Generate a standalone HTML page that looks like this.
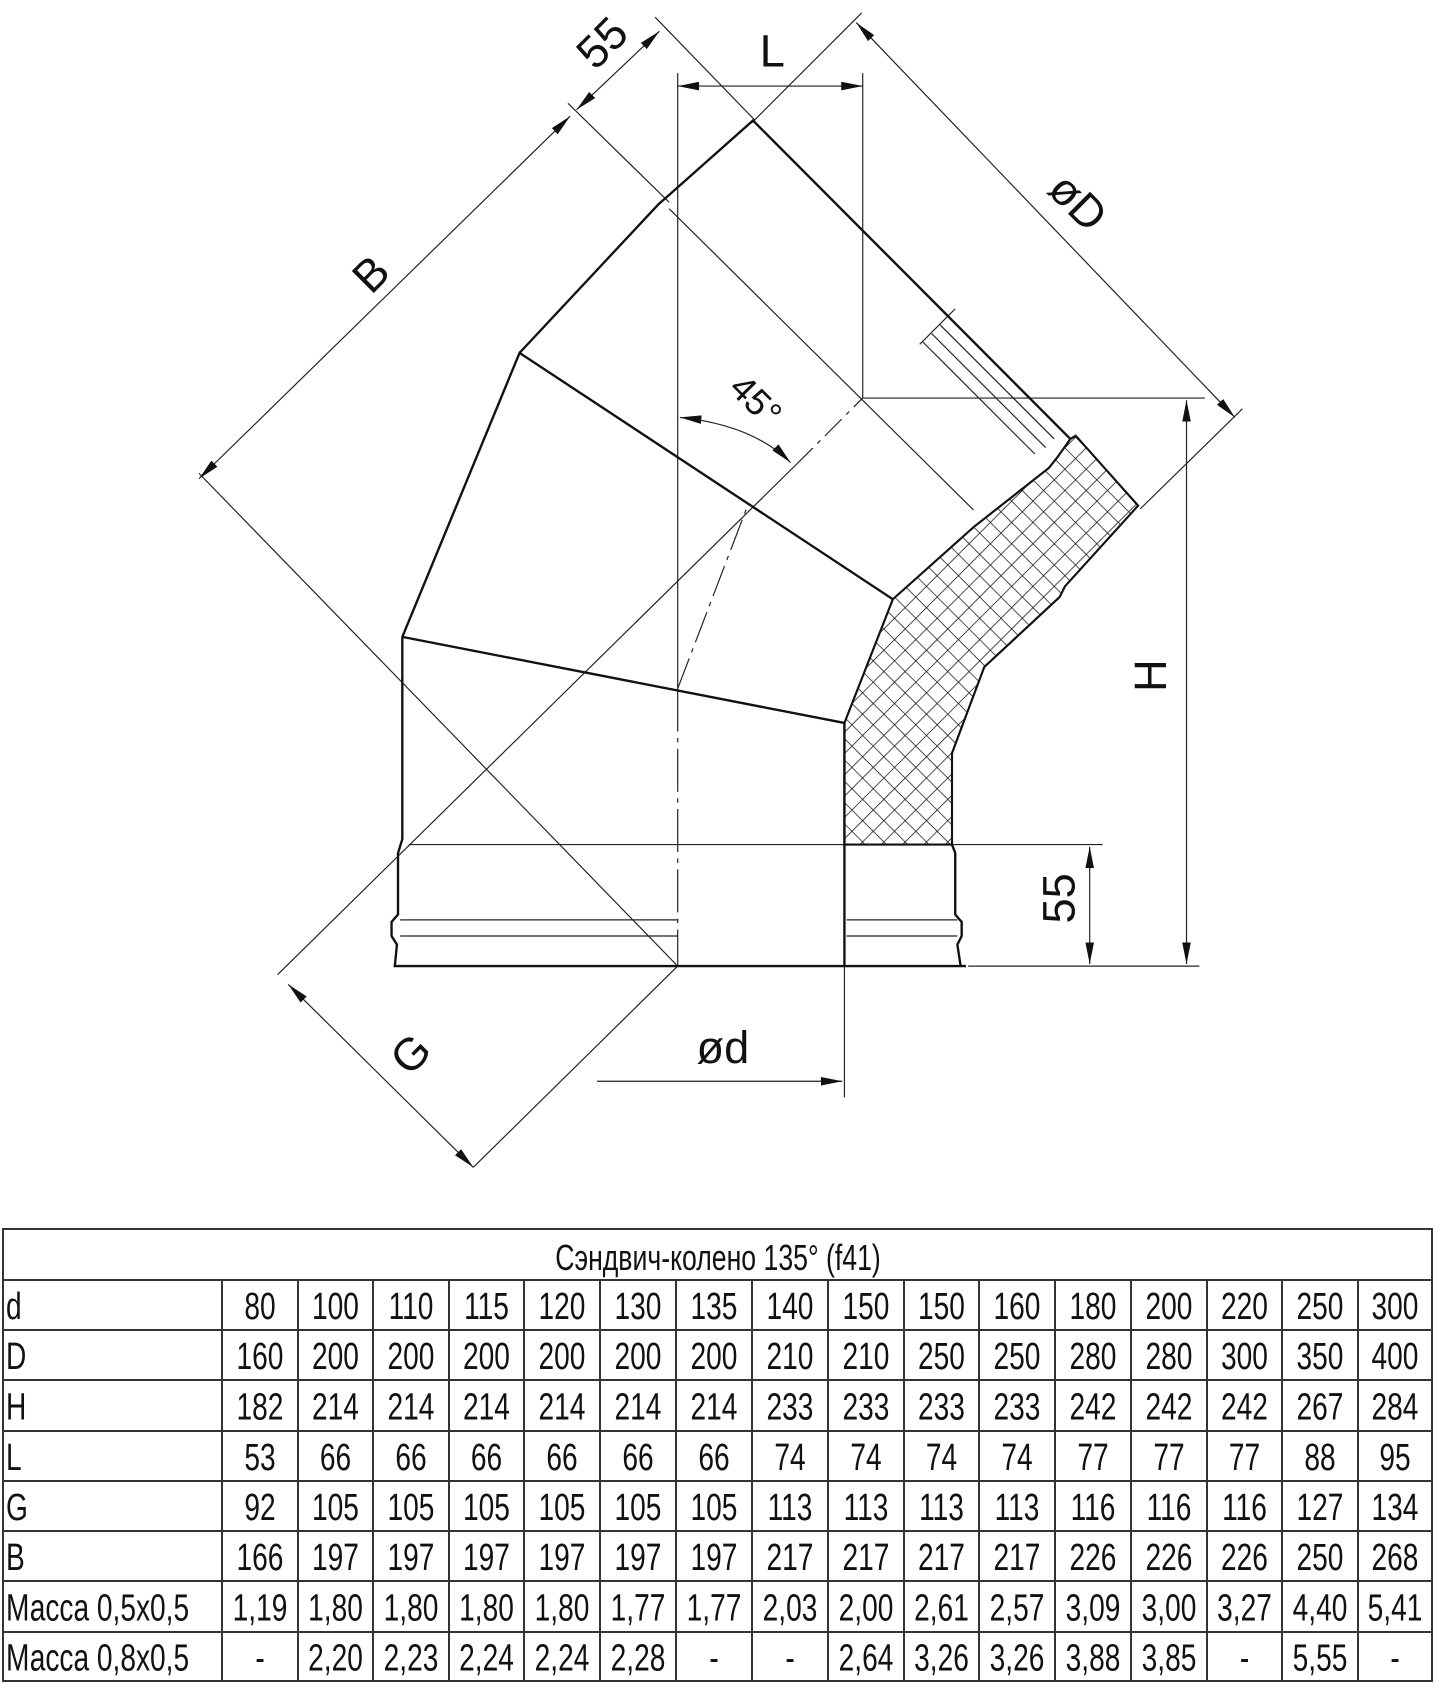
<!DOCTYPE html>
<html><head><meta charset="utf-8"><style>
html,body{margin:0;padding:0;background:#fff;}
svg{position:absolute;left:0;top:0;}
</style></head><body>
<svg width="1435" height="1688" viewBox="0 0 1334 1569" preserveAspectRatio="none" xmlns="http://www.w3.org/2000/svg">
<defs>
<pattern id="h" width="14" height="14" patternUnits="userSpaceOnUse" patternTransform="rotate(45)">
<path d="M0 0H14M0 0V14" stroke="#111" stroke-width="1.4" fill="none"/>
</pattern>
<marker id="a" viewBox="0 0 20 8" refX="20" refY="4" markerWidth="20" markerHeight="8" orient="auto-start-reverse" markerUnits="userSpaceOnUse"><path d="M0 0L20 4L0 8Z" fill="#111"/></marker>
</defs>
<g fill="none" stroke="#222" stroke-width="1.1">
<line x1="630" y1="68" x2="630" y2="640"/>
<line x1="630" y1="640" x2="630" y2="898" stroke-dasharray="40 6 4 6"/>
<line x1="802" y1="68" x2="802" y2="370"/>
<line x1="802" y1="370" x2="1120" y2="370"/>
<line x1="900" y1="898" x2="1115" y2="898"/>
<line x1="380" y1="785" x2="1025" y2="785"/>
<line x1="185" y1="440" x2="630" y2="898"/>
<line x1="258" y1="906" x2="740" y2="432"/>
<line x1="740" y1="432" x2="802" y2="370" stroke-dasharray="22 6 4 6"/>
<line x1="630" y1="640" x2="695" y2="470" stroke-dasharray="30 6 4 6"/>
<line x1="440" y1="1085" x2="630" y2="898"/>
<line x1="622" y1="194" x2="905" y2="474"/>
<line x1="528" y1="96" x2="622" y2="188"/>
<line x1="609" y1="16" x2="702" y2="112"/>
<line x1="801" y1="12" x2="699" y2="114"/>
<line x1="1060" y1="473" x2="1155" y2="380"/>
<line x1="785" y1="898" x2="785" y2="1020"/>
<line x1="855" y1="320" x2="888" y2="287"/>
<line x1="858" y1="318" x2="962" y2="422"/>
<line x1="866" y1="310" x2="972" y2="416"/>
<line x1="874" y1="302" x2="980" y2="408"/>
<line x1="372" y1="855" x2="630" y2="855"/>
<line x1="372" y1="870" x2="630" y2="870"/>
<line x1="787" y1="855" x2="890" y2="855"/>
<line x1="787" y1="870" x2="890" y2="870"/>
<line x1="630" y1="80" x2="802" y2="80" marker-start="url(#a)" marker-end="url(#a)"/>
<line x1="185" y1="445" x2="530" y2="108" marker-start="url(#a)" marker-end="url(#a)"/>
<line x1="536" y1="102" x2="613" y2="29" marker-start="url(#a)" marker-end="url(#a)"/>
<line x1="796" y1="21" x2="1148" y2="388" marker-start="url(#a)" marker-end="url(#a)"/>
<line x1="1103" y1="372" x2="1103" y2="896" marker-start="url(#a)" marker-end="url(#a)"/>
<line x1="1013" y1="787" x2="1013" y2="896" marker-start="url(#a)" marker-end="url(#a)"/>
<line x1="555" y1="1005" x2="783" y2="1005" marker-end="url(#a)"/>
<line x1="268" y1="915" x2="440" y2="1085" marker-start="url(#a)" marker-end="url(#a)"/>
<path d="M632 388 Q700 395 735 430" marker-start="url(#a)" marker-end="url(#a)"/>
</g>
<path d="M785 785 L785 672 L830 557 L905 490 L975 435 L983 425 L995 408 L1000 405 L1058 470 L990 545 L985 555 L915 620 L885 700 L885 785 Z" fill="url(#h)" stroke="#111" stroke-width="2"/>
<g fill="none" stroke="#111" stroke-width="2.2">
<path d="M374 592 L374 780 L370 793 L370 850 L364 857 L364 870 L369 878 L367 898 L898 898"/>
<path d="M885 785 L888 793 L888 850 L894 857 L894 870 L890 878 L893 898"/>
<path d="M785 672 L785 898"/>
<path d="M374 592 L785 672"/>
<path d="M374 592 L483 328 L830 557"/>
<path d="M483 328 L612 190 L620 183 L700 112 L995 408"/>
</g>
<g font-family="Liberation Sans, sans-serif" font-size="42" fill="#111" text-anchor="middle">
<text x="718" y="62">L</text>
<text transform="translate(560,40) rotate(-45)" y="14">55</text>
<text transform="translate(345,255) rotate(-45)" y="14">B</text>
<text transform="translate(1002,188) rotate(45)" y="14">øD</text>
<text transform="translate(1070,628) rotate(-90)" y="14">H</text>
<text transform="translate(985,835) rotate(-90)" y="14">55</text>
<text x="672" y="988">ød</text>
<text transform="translate(382,980) rotate(-45)" y="14">G</text>
<text transform="translate(703,372) rotate(45)" y="12" font-size="34">45°</text>
</g>
</svg>
<svg width="1435" height="1688" viewBox="0 0 1435 1688" xmlns="http://www.w3.org/2000/svg">
<g stroke="#333" stroke-width="2" fill="none">
<rect x="3" y="1229" width="1429" height="452"/>
<path d="M3 1280H1432M3 1330H1432M3 1380H1432M3 1431H1432M3 1481H1432M3 1531H1432M3 1581H1432M3 1632H1432"/>
<path d="M222 1280V1681M298 1280V1681M373 1280V1681M449 1280V1681M524 1280V1681M600 1280V1681M676 1280V1681M752 1280V1681M828 1280V1681M904 1280V1681M979 1280V1681M1055 1280V1681M1131 1280V1681M1207 1280V1681M1282 1280V1681M1358 1280V1681"/>
</g>
<g font-family="Liberation Sans, sans-serif" font-size="38" fill="#111">
<text transform="translate(718,1270) scale(0.74,1)" text-anchor="middle" font-size="36">Сэндвич-колено 135° (f41)</text>
<g id="rows"></g>
</g>
</svg>
<script>
var rows=[["d","80","100","110","115","120","130","135","140","150","150","160","180","200","220","250","300"],
["D","160","200","200","200","200","200","200","210","210","250","250","280","280","300","350","400"],
["H","182","214","214","214","214","214","214","233","233","233","233","242","242","242","267","284"],
["L","53","66","66","66","66","66","66","74","74","74","74","77","77","77","88","95"],
["G","92","105","105","105","105","105","105","113","113","113","113","116","116","116","127","134"],
["B","166","197","197","197","197","197","197","217","217","217","217","226","226","226","250","268"],
["Масса 0,5х0,5","1,19","1,80","1,80","1,80","1,80","1,77","1,77","2,03","2,00","2,61","2,57","3,09","3,00","3,27","4,40","5,41"],
["Масса 0,8х0,5","-","2,20","2,23","2,24","2,24","2,28","-","-","2,64","3,26","3,26","3,88","3,85","-","5,55","-"]];
var xs=[3,222,298,373,449,524,600,676,752,828,904,979,1055,1131,1207,1282,1358,1432];
var ys=[1280,1330,1380,1431,1481,1531,1581,1632,1681];
var g=document.getElementById("rows"),ns="http://www.w3.org/2000/svg";
rows.forEach(function(r,i){r.forEach(function(c,j){var t=document.createElementNS(ns,"text");
var y=(ys[i]+ys[i+1])/2+14;
if(j==0){t.setAttribute("transform","translate(6,"+y+") scale(0.74,1)");}
else{t.setAttribute("transform","translate("+((xs[j]+xs[j+1])/2)+","+y+") scale(0.74,1)");t.setAttribute("text-anchor","middle");}
t.textContent=c;g.appendChild(t);});});
</script>
</body></html>
